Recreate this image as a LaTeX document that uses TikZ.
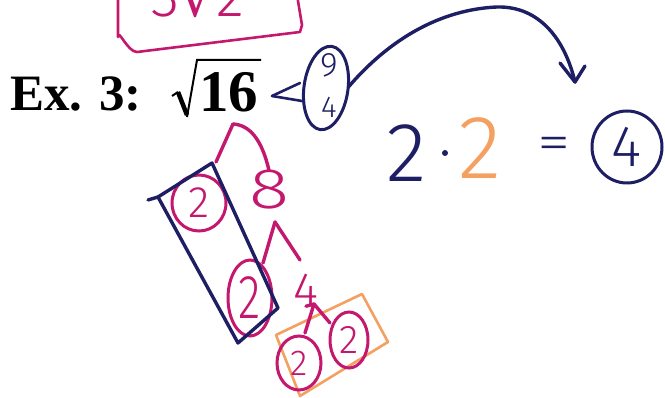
\documentclass[tikz,border=0pt]{standalone}
\usepackage{fontspec}
\setmainfont{Liberation Serif}
\newfontfamily\handfont{Fira Sans Light}
\newfontfamily\symfont{DejaVu Sans}
\usetikzlibrary{shapes.geometric}
\definecolor{pinkink}{RGB}{196,24,110}
\definecolor{blueink}{RGB}{30,30,100}
\definecolor{orangeink}{RGB}{244,160,96}
\newcommand\handsz[1]{\handfont\fontsize{#1}{#1}\selectfont}
\begin{document}
\begin{tikzpicture}[x=1pt,y=-1pt,
  ink/.style={line width=3.4pt, line cap=round, line join=round},
  thinink/.style={line width=2.6pt, line cap=round, line join=round},
  hw/.style={inner sep=0pt, outer sep=0pt},
  ring/.style={ellipse, draw, line width=3pt, inner sep=0pt, outer sep=0pt}]
\useasboundingbox (0,0) rectangle (665,398);
\clip (0,0) rectangle (665,398);
\fill[white] (0,0) rectangle (665,398);

% top pink answer box (cut off at the top edge, as in the reference)
\node[hw, pinkink, anchor=base, font=\handsz{58}] (ans) at (198,17) {3{\symfont\fontsize{58}{58}\selectfont √}2};
\draw[pinkink, thinink] (118,-5) -- (118,37) to[out=90,in=180] (137,52) -- (300,32) -- (302,25) -- (297,-5);

% title
\node[hw, anchor=base west, font=\bfseries\fontsize{51}{51}\selectfont] (ex) at (10,111) {Ex. 3:};
\node[hw, anchor=base west, font=\bfseries\fontsize{59}{59}\selectfont] (sq) at (199,112) {16};
\draw[line width=2pt, line join=miter] (172,96) -- (178,92);
\draw[line width=4.5pt] (178,92) -- (187,115);
\draw[line width=2pt, line join=miter] (187,117) -- (197,60) -- (261,60);

% blue 9/4 oval
\node[ring, blueink, minimum width=44pt, minimum height=84pt, rotate=-8] (ov) at (326,88) {};
\node[hw, blueink, font=\handsz{34}] (nine) at (329,65) {9};
\node[hw, blueink, font=\handsz{30}] (four) at (329,107) {4};
\coordinate (fork) at (272,96);
\draw[blueink, thinink] (fork) -- (300,83);
\draw[blueink, thinink] (fork) -- (302,101);

% arrow
\coordinate (tip) at (575,82);
\draw[blueink, ink] (ov.10) .. controls (380,50) and (430,10) .. (497,7) .. controls (540,6) and (565,40) .. (tip);
\draw[blueink, ink] (560,63) -- (tip) -- (585,66);

% 2 . 2 = 4
\node[hw, blueink, font=\handsz{84}] (b2) at (407,153) {2};
\fill[blueink] (445,153) circle (3);
\node[hw, orangeink, font=\handsz{90}] (o2) at (480,148) {2};
\node[hw, blueink, font=\handsz{50}, xscale=1.35] (eq) at (554,148) {=};
\node[ring, blueink, minimum width=70pt, minimum height=72pt, font=\handsz{58}] (c4r) at (627,147) {4};

% orange box
\draw[orangeink, thinink] (276,335) -- (362,294) -- (388,342) -- (300,396) -- cycle;

% pink factor tree
\coordinate (p1) at (233,124);
\coordinate (p2) at (275,222);
\coordinate (p3) at (314,304);
\node[ring, pinkink, minimum width=54pt, minimum height=56pt, font=\handsz{44}] (c1) at (199,203) {2};
\node[hw, pinkink, font=\handsz{57}, xscale=1.3] (n8) at (269,190) {8};
\node[ring, pinkink, minimum width=44pt, minimum height=76pt] (c2) at (250,298) {};
\node[hw, pinkink, font=\handsz{62}, xscale=0.75] (c2t) at (c2) {2};
\node[hw, pinkink, font=\handsz{48}] (n4) at (306,290) {4};
\node[ring, pinkink, minimum width=44pt, minimum height=54pt, font=\handsz{36}] (c3) at (299,363) {2};
\node[ring, pinkink, minimum width=38pt, minimum height=56pt, font=\handsz{40}] (c4) at (349,340) {2};

\draw[pinkink, ink] (p1) -- (216,162);
\draw[pinkink, ink] (p1) .. controls (250,125) and (262,140) .. (n8.north);
\draw[pinkink, ink] (p2) -- (263,263);
\draw[pinkink, ink] (p2) -- (300,260);
\draw[pinkink, ink] (n4.south) -- (p3) -- (305,333);
\draw[pinkink, ink] (p3) -- (330,323);

% blue rectangle around the pair of 2s
\draw[blueink, ink] (158,197) -- (212,163) -- (278,308) -- (238,343) -- cycle;
\draw[blueink, ink] (148,200) -- (158,197);
\end{tikzpicture}
\end{document}
